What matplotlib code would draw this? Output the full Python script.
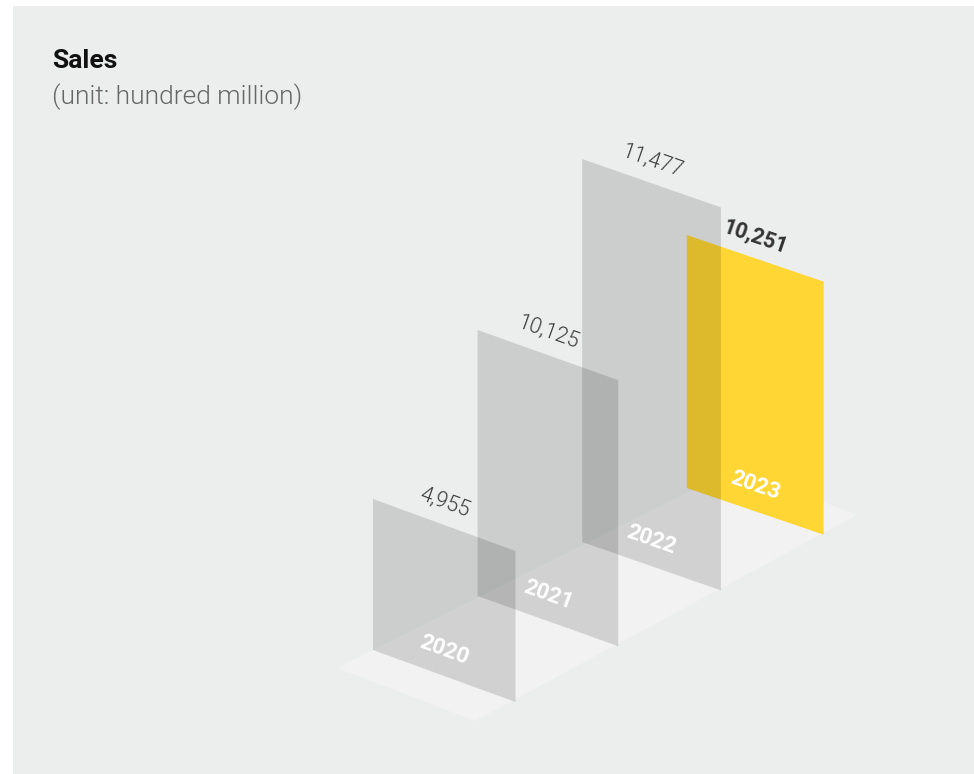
import math
import matplotlib
matplotlib.use("Agg")
import matplotlib.pyplot as plt
from matplotlib.patches import Polygon, Rectangle

# ---- data ----
years = ["2020", "2021", "2022", "2023"]
sales = [4955, 10125, 11477, 10251]          # label values (hundred million)
panel_heights = [151, 266, 383, 253]         # apparent panel heights in the reference
highlight = [False, False, False, True]

title = "Sales"
subtitle = "(unit: hundred million)"

# ---- styling ----
BG = "#eceded"
FLOOR = "#f1f2f1"
YELLOW = "#ffd633"
FONT = ["Roboto", "DejaVu Sans"]

fig = plt.figure(figsize=(9.74, 7.74), dpi=100, facecolor="white")
ax = fig.add_axes([0, 0, 1, 1])
ax.set_xlim(0, 974)
ax.set_ylim(774, 0)
ax.axis("off")

ax.add_patch(Rectangle((13, 6), 961, 768, facecolor=BG, edgecolor="none", zorder=0))

# floor
ax.add_patch(Polygon([(337, 668), (475, 721), (857, 515), (736, 468)],
                     closed=True, facecolor=FLOOR, edgecolor="none", zorder=1))

def geom(i):
    x0 = 373 + 104.6 * i
    yb = 650 - 54 * i
    w = 142.5 - 1.9 * i
    s = 0.365 - 0.008 * i
    return x0, yb, w, s

# draw highlighted (opaque) panels first, translucent gray on top
order = [i for i in range(len(years)) if highlight[i]] + \
        [i for i in range(len(years)) if not highlight[i]]
for i in order:
    x0, yb, w, s = geom(i)
    h = panel_heights[i]
    pts = [(x0, yb), (x0 + w, yb + s * w), (x0 + w, yb + s * w - h), (x0, yb - h)]
    if highlight[i]:
        ax.add_patch(Polygon(pts, closed=True, facecolor=YELLOW, edgecolor="none", zorder=2))
    else:
        ax.add_patch(Polygon(pts, closed=True, facecolor="black", alpha=0.135,
                             edgecolor="none", zorder=3))

for i in range(len(years)):
    x0, yb, w, s = geom(i)
    h = panel_heights[i]
    ang = -math.degrees(math.atan(s))
    cx = x0 + w / 2
    top_c = yb - h + s * w / 2
    bot_c = yb + s * w / 2
    ax.text(cx, top_c - 22, f"{sales[i]:,}", rotation=ang, rotation_mode="anchor",
            ha="center", va="center", fontsize=15.5, family=FONT,
            fontweight="bold" if highlight[i] else 300,
            color="#333333" if highlight[i] else "#3c3c3c", zorder=5)
    ax.text(cx, bot_c - 26, years[i], rotation=ang, rotation_mode="anchor",
            ha="center", va="center", fontsize=16, family=FONT,
            fontweight="bold", color="white", zorder=5)

ax.text(52, 68, title, fontsize=19, fontweight="bold", family=FONT,
        color="#111111", ha="left", va="baseline")
ax.text(52, 104, subtitle, fontsize=19, fontweight=300, family=FONT,
        color="#666666", ha="left", va="baseline")

fig.savefig("out.png", dpi=100, facecolor="white")
